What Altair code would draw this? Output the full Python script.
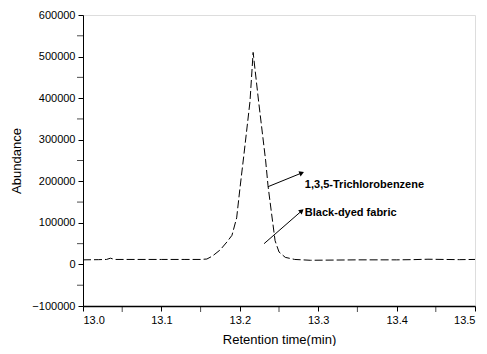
import altair as alt
import pandas as pd

# chromatogram trace
rt = [13.00, 13.02, 13.03, 13.035, 13.04, 13.07, 13.10, 13.13, 13.15, 13.158, 13.165, 13.175,
      13.184, 13.19, 13.196, 13.200, 13.205, 13.213, 13.217, 13.224, 13.233, 13.236,
      13.240, 13.245, 13.250, 13.258, 13.27, 13.29, 13.32, 13.35, 13.38, 13.40, 13.42,
      13.44, 13.46, 13.48, 13.50]
abundance = [11000, 11500, 12000, 15000, 12000, 12000, 12000, 12000, 12000, 13000, 20000, 35000,
             55000, 70000, 112000, 180000, 260000, 392000, 510000, 392000, 249000, 189000,
             130000, 57000, 30000, 17000, 12000, 10000, 10500, 11000, 11000, 11000, 11500,
             12500, 12000, 11500, 12000]

# annotations
labels = ["1,3,5-Trichlorobenzene", "Black-dyed fabric"]
label_x = [13.283, 13.283]
label_y = [191000, 124000]
arrow_x0 = [13.236, 13.231]
arrow_y0 = [187000, 50000]
arrow_x1 = [13.279, 13.279]
arrow_y1 = [220000, 129000]
arrow_angle = [338, 319]

df = pd.DataFrame({"rt": rt, "ab": abundance})
ann = pd.DataFrame({"label": labels, "lx": label_x, "ly": label_y,
                    "x0": arrow_x0, "y0": arrow_y0, "x1": arrow_x1, "y1": arrow_y1,
                    "ang": arrow_angle})

font = "Liberation Sans"
xs = alt.Scale(domain=[13.0, 13.5], nice=False, zero=False)
ys = alt.Scale(domain=[-100000, 600000], nice=False)

xax = alt.Axis(values=[13.0, 13.1, 13.2, 13.3, 13.4, 13.5], format=".1f", grid=False,
               title="Retention time(min)", domainColor="black", tickColor="black",
               labelColor="black", titleColor="black", labelFont=font, titleFont=font,
               labelFontSize=11, titleFontSize=13, titleFontWeight="normal", tickSize=5,
               labelPadding=3, titlePadding=8, domainWidth=1.5)
yax = alt.Axis(values=list(range(-100000, 600001, 100000)), format="d", grid=False,
               title="Abundance", domainColor="black", tickColor="black",
               labelColor="black", titleColor="black", labelFont=font, titleFont=font,
               labelFontSize=11, titleFontSize=13, titleFontWeight="normal", tickSize=5,
               labelPadding=3, titlePadding=8)

line = alt.Chart(df).mark_line(color="black", strokeWidth=1, strokeDash=[8, 3]).encode(
    x=alt.X("rt:Q", scale=xs, axis=xax),
    y=alt.Y("ab:Q", scale=ys, axis=yax),
)

# minor ticks
minor_x = pd.DataFrame({"v": [13.05, 13.15, 13.25, 13.35, 13.45]})
minor_y = pd.DataFrame({"v": [-50000, 50000, 150000, 250000, 350000, 450000, 550000]})
mx = alt.Chart(minor_x).mark_tick(color="black", size=6, thickness=1, orient="vertical",
                                  yOffset=3).encode(
    x=alt.X("v:Q", scale=xs), y=alt.value(291))
my = alt.Chart(minor_y).mark_tick(color="black", size=6, thickness=1, orient="horizontal",
                                  xOffset=-3).encode(
    y=alt.Y("v:Q", scale=ys), x=alt.value(0))

arrows = alt.Chart(ann).mark_rule(color="black", strokeWidth=1).encode(
    x=alt.X("x0:Q", scale=xs), y=alt.Y("y0:Q", scale=ys),
    x2="x1:Q", y2="y1:Q")
heads = alt.Chart(ann).mark_point(shape="triangle-right", filled=True, color="black",
                                  size=30, opacity=1).encode(
    x=alt.X("x1:Q", scale=xs), y=alt.Y("y1:Q", scale=ys), angle=alt.Angle("ang:Q", scale=None))
texts = alt.Chart(ann).mark_text(align="left", baseline="middle", font=font, fontSize=11,
                                 fontWeight="bold", color="black").encode(
    x=alt.X("lx:Q", scale=xs), y=alt.Y("ly:Q", scale=ys), text="label:N")

chart = alt.layer(line, mx, my, arrows, heads, texts).properties(
    width=392, height=291,
    autosize=alt.AutoSizeParams(type="none"),
    padding={"left": 75, "top": 7, "right": 4, "bottom": 40},
).configure_view(stroke=None).configure(background="white")

chart.save("out.html", embed_options={"renderer": "svg", "actions": False})
